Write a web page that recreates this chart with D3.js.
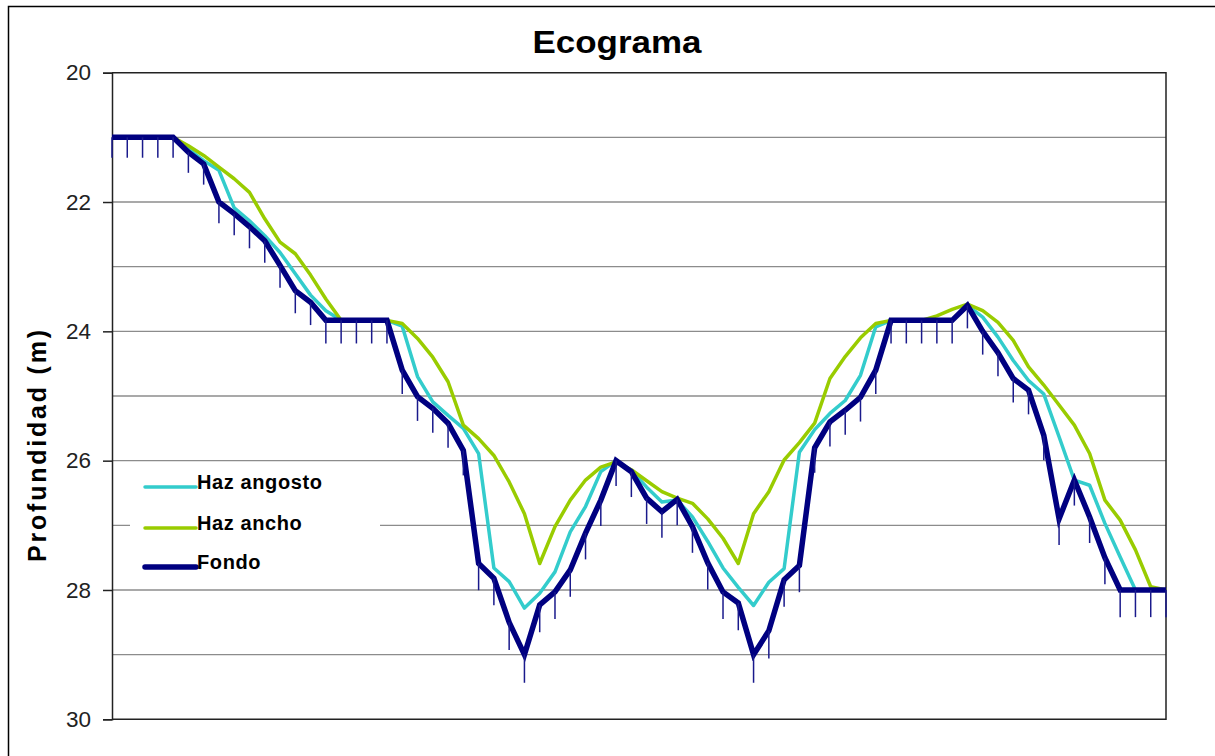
<!DOCTYPE html>
<html>
<head>
<meta charset="utf-8">
<script src="https://cdn.jsdelivr.net/npm/d3@7"></script>
<style>
  body { margin: 0; background: #fff; }
  text { font-family: "Liberation Sans", Arial, sans-serif; }
</style>
</head>
<body>
<svg id="eco" width="1215" height="756"></svg>
<script>
// ping number (categories)
var pings = [1,2,3,4,5,6,7,8,9,10,11,12,13,14,15,16,17,18,19,20,
  21,22,23,24,25,26,27,28,29,30,31,32,33,34,35,36,37,38,39,40,
  41,42,43,44,45,46,47,48,49,50,51,52,53,54,55,56,57,58,59,60,
  61,62,63,64,65,66,67,68,69,70];

var hazAngosto = [21,21,21,21,21,21.18,21.36,21.51,22.09,22.29,
  22.52,22.78,23.11,23.44,23.68,23.83,23.83,23.83,23.83,23.92,
  24.7,25.09,25.3,25.5,25.89,27.66,27.87,28.28,28.05,27.72,
  27.1,26.71,26.17,26,26.15,26.41,26.64,26.61,26.87,27.25,
  27.66,27.96,28.24,27.88,27.67,25.87,25.52,25.27,25.07,24.68,
  23.93,23.83,23.83,23.83,23.83,23.83,23.6,23.78,24.09,24.45,
  24.76,24.97,25.63,26.3,26.38,26.97,27.49,28,28,28];

var hazAncho = [21,21,21,21,21,21.13,21.28,21.46,21.64,21.85,
  22.26,22.62,22.8,23.13,23.5,23.83,23.83,23.83,23.83,23.88,
  24.11,24.4,24.78,25.45,25.66,25.92,26.33,26.82,27.59,27.02,
  26.61,26.3,26.1,26.02,26.14,26.31,26.48,26.58,26.66,26.9,
  27.2,27.59,26.82,26.48,25.99,25.72,25.42,24.73,24.39,24.1,
  23.88,23.83,23.83,23.83,23.76,23.66,23.58,23.68,23.86,24.14,
  24.55,24.83,25.14,25.45,25.89,26.61,26.92,27.38,27.95,28];

var fondo = [21,21,21,21,21,21.23,21.41,22,22.18,22.38,
  22.6,22.98,23.37,23.55,23.83,23.83,23.83,23.83,23.83,24.6,
  25.01,25.19,25.42,25.84,27.59,27.82,28.5,29,28.23,28.03,
  27.69,27.12,26.61,26,26.17,26.58,26.79,26.6,27.02,27.58,
  28.03,28.2,29,28.63,27.84,27.62,25.8,25.4,25.22,25.02,
  24.6,23.83,23.83,23.83,23.83,23.83,23.6,24,24.33,24.73,
  24.91,25.61,26.9,26.3,26.87,27.5,28,28,28,28];

// error bar on Fondo, percent of value
var errPct = 0.015;

var yTicks = [20,22,24,26,28,30];
var yGrid = [21,22,23,24,25,26,27,28,29];
var seriesNames = ["Haz angosto","Haz ancho","Fondo"];
var seriesColors = ["#33CCCC","#99CC00","#000080"];

var svg = d3.select("#eco");
var plot = {left:112, top:72.7, right:1166, bottom:719.3};

// chart area border (runs off the right and bottom of the picture)
svg.append("rect")
  .attr("x", 8.5).attr("y", 6.5)
  .attr("width", 1240).attr("height", 780)
  .attr("fill", "#fff")
  .attr("stroke", "#000")
  .attr("stroke-width", 1.5);

var xScale = d3.scalePoint()
  .domain(pings)
  .range([plot.left, plot.right]);

var yScale = d3.scaleLinear()
  .domain([20, 30])
  .range([plot.top, plot.bottom]);

// gridlines
svg.append("g")
  .selectAll("line")
  .data(yGrid)
  .join("line")
  .attr("x1", plot.left).attr("x2", plot.right)
  .attr("y1", function(d) { return yScale(d); })
  .attr("y2", function(d) { return yScale(d); })
  .attr("stroke", "#8c8c8c")
  .attr("stroke-width", 1.3);

// plot frame: top, right, bottom
svg.append("path")
  .attr("d", "M" + plot.left + "," + plot.top + "H" + plot.right + "V" + plot.bottom + "H" + plot.left)
  .attr("fill", "none")
  .attr("stroke", "#222")
  .attr("stroke-width", 1.5);

var yAxis = d3.axisLeft(yScale)
  .tickValues(yTicks)
  .tickSize(9)
  .tickPadding(12)
  .tickFormat(d3.format("d"));

var yG = svg.append("g")
  .attr("transform", "translate(" + plot.left + ",0)")
  .call(yAxis);
yG.select(".domain").attr("stroke", "#222").attr("stroke-width", 1.5);
yG.selectAll(".tick line").attr("stroke", "#222").attr("stroke-width", 1.5);
yG.selectAll(".tick text")
  .attr("font-size", 22.5)
  .attr("fill", "#222")
  .style("font-family", "'Liberation Sans', Arial, sans-serif");

var line = d3.line()
  .x(function(d, i) { return xScale(pings[i]); })
  .y(function(d) { return yScale(d); });

svg.append("path")
  .datum(hazAngosto)
  .attr("fill", "none")
  .attr("stroke", seriesColors[0])
  .attr("stroke-width", 3.5)
  .attr("stroke-linejoin", "round")
  .attr("d", line);

svg.append("path")
  .datum(hazAncho)
  .attr("fill", "none")
  .attr("stroke", seriesColors[1])
  .attr("stroke-width", 3.5)
  .attr("stroke-linejoin", "round")
  .attr("d", line);

svg.append("path")
  .datum(fondo)
  .attr("fill", "none")
  .attr("stroke", seriesColors[2])
  .attr("stroke-width", 5.5)
  .attr("stroke-linejoin", "miter")
  .attr("d", line);

// error bars (downwards, depth grows)
svg.append("g")
  .selectAll("line")
  .data(fondo)
  .join("line")
  .attr("x1", function(d, i) { return xScale(pings[i]); })
  .attr("x2", function(d, i) { return xScale(pings[i]); })
  .attr("y1", function(d) { return yScale(d); })
  .attr("y2", function(d) { return yScale(d + d * errPct); })
  .attr("stroke", "#1a1a8c")
  .attr("stroke-width", 1.5);

// title
svg.append("text")
  .attr("x", 617).attr("y", 53)
  .attr("text-anchor", "middle")
  .attr("font-size", 32)
  .attr("font-weight", "bold")
  .attr("fill", "#000")
  .attr("textLength", 169)
  .attr("lengthAdjust", "spacingAndGlyphs")
  .text("Ecograma");

svg.append("text")
  .attr("transform", "translate(46,446)rotate(-90)")
  .attr("text-anchor", "middle")
  .attr("font-size", 25)
  .attr("font-weight", "bold")
  .attr("fill", "#000")
  .attr("textLength", 232)
  .attr("lengthAdjust", "spacing")
  .text("Profundidad  (m)");

// legend
var legend = svg.append("g");
legend.append("rect")
  .attr("x", 130).attr("y", 466)
  .attr("width", 250).attr("height", 119)
  .attr("fill", "#fff");

var legendY = [487, 528, 567];
var legendW = [3.5, 3.5, 5.5];
var lg = legend.selectAll("g.item")
  .data(seriesNames)
  .join("g")
  .attr("class", "item")
  .attr("transform", function(d, i) { return "translate(0," + legendY[i] + ")"; });
lg.append("line")
  .attr("x1", 145).attr("x2", 196)
  .attr("stroke", function(d, i) { return seriesColors[i]; })
  .attr("stroke-width", function(d, i) { return legendW[i]; })
  .attr("stroke-linecap", "round");
lg.append("text")
  .attr("x", 197).attr("y", 0)
  .attr("dy", "0.1em")
  .attr("font-size", 20)
  .attr("font-weight", "bold")
  .attr("fill", "#000")
  .attr("letter-spacing", 0.6)
  .text(function(d) { return d; });
</script>
</body>
</html>
